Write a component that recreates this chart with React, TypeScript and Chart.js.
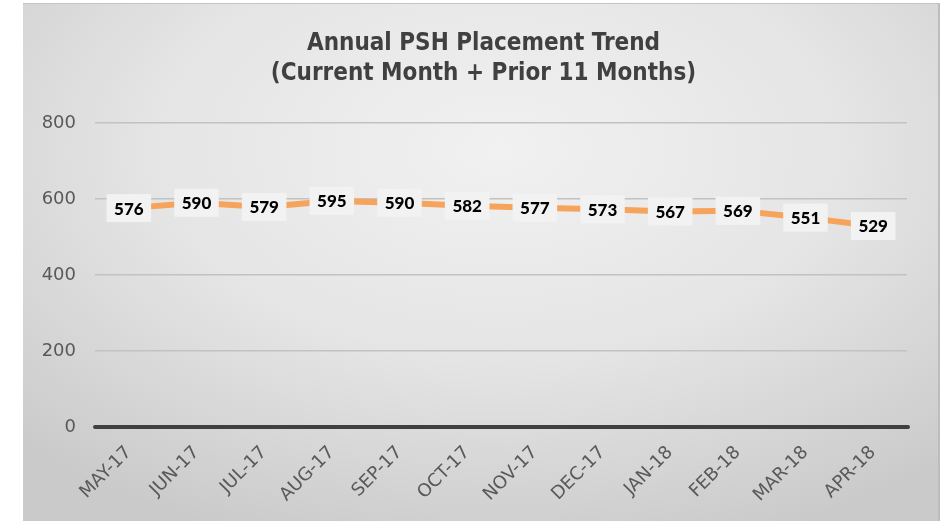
import React, { useEffect, useRef } from "react";
import { Chart, registerables } from "chart.js";

Chart.register(...registerables);

const categories = ["MAY-17", "JUN-17", "JUL-17", "AUG-17", "SEP-17", "OCT-17", "NOV-17", "DEC-17", "JAN-18", "FEB-18", "MAR-18", "APR-18"];
const placements = [576, 590, 579, 595, 590, 582, 577, 573, 567, 569, 551, 529];
const yTicks = [0, 200, 400, 600, 800];
const titleLines = ["Annual PSH Placement Trend", "(Current Month + Prior 11 Months)"];

const FONT = "'DejaVu Sans', sans-serif";
const TITLE_FONT = "'DejaVu Sans Condensed', 'DejaVu Sans', sans-serif";
const LABEL_FONT = "Lato, 'DejaVu Sans', sans-serif";

const decorPlugin = {
  id: "decor",
  beforeDatasetsDraw(chart: any) {
    const { ctx, chartArea, scales } = chart;
    const y0 = scales.y.getPixelForValue(0);
    ctx.save();
    ctx.strokeStyle = "#404040";
    ctx.lineWidth = 4;
    ctx.lineCap = "round";
    ctx.beginPath();
    ctx.moveTo(chartArea.left, y0);
    ctx.lineTo(chartArea.right + 1, y0);
    ctx.stroke();
    ctx.restore();
  },
  afterDatasetsDraw(chart: any) {
    const { ctx } = chart;
    const meta = chart.getDatasetMeta(0);
    ctx.save();
    ctx.font = `900 17px ${LABEL_FONT}`;
    ctx.textAlign = "center";
    ctx.textBaseline = "middle";
    meta.data.forEach((pt: any, i: number) => {
      const txt = String(placements[i]);
      const w = ctx.measureText(txt).width + 15;
      const h = 28;
      ctx.fillStyle = "#f2f2f2";
      ctx.fillRect(pt.x - w / 2, pt.y - h / 2, w, h);
      ctx.fillStyle = "#000000";
      ctx.fillText(txt, pt.x, pt.y + 1);
    });
    ctx.restore();
  },
  afterDraw(chart: any) {
    const { ctx, width } = chart;
    ctx.save();
    ctx.fillStyle = "#404040";
    ctx.textAlign = "center";
    ctx.textBaseline = "alphabetic";
    ctx.font = `bold 24px ${TITLE_FONT}`;
    ctx.fillText(titleLines[0], width / 2 + 3, 46);
    ctx.fillText(titleLines[1], width / 2 + 3, 76);
    ctx.restore();
  },
};

export default function App() {
  const ref = useRef<HTMLCanvasElement | null>(null);
  useEffect(() => {
    if (!ref.current) return;
    const chart = new Chart(ref.current, {
      type: "line",
      data: {
        labels: categories,
        datasets: [
          {
            data: placements,
            borderColor: "#F6A35C",
            borderWidth: 6,
            pointRadius: 0,
            tension: 0,
            fill: false,
          },
        ],
      },
      options: {
        responsive: false,
        animation: false,
        layout: { padding: { top: 119, right: 31, left: 0, bottom: 0 } },
        plugins: { legend: { display: false }, title: { display: false }, tooltip: { enabled: false } },
        scales: {
          x: {
            offset: true,
            grid: { display: false },
            border: { display: false },
            ticks: {
              minRotation: 45,
              maxRotation: 45,
              autoSkip: false,
              padding: 7,
              color: "#595959",
              font: { family: FONT, size: 18 },
            },
            afterFit(scale: any) {
              scale.height = 96;
            },
          },
          y: {
            min: 0,
            max: 800,
            afterBuildTicks(scale: any) {
              scale.ticks = yTicks.map((v) => ({ value: v }));
            },
            grid: {
              drawTicks: false,
              color: (c: any) => (c.tick && c.tick.value === 0 ? "rgba(0,0,0,0)" : "#c2c2c2"),
              lineWidth: 1.5,
            },
            border: { display: false },
            ticks: {
              padding: 19,
              color: "#595959",
              font: { family: FONT, size: 18 },
            },
            afterFit(scale: any) {
              scale.width = 72;
            },
          },
        },
      },
      plugins: [decorPlugin],
    });
    return () => chart.destroy();
  }, []);

  return (
    <div style={{ position: "fixed", left: 0, top: 0, width: 946, height: 521, background: "#ffffff", overflow: "hidden" }}>
      <div
        style={{
          position: "absolute",
          left: 23,
          top: 3,
          width: 917,
          height: 520,
          boxSizing: "border-box",
          borderTop: "1px solid #c4c4c4",
          borderRight: "2px solid #bdbdbd",
          background: "radial-gradient(ellipse 75% 80% at 52% 28%, #f1f1f1 0%, #e5e5e5 50%, #cacaca 100%)",
        }}
      >
        <canvas ref={ref} width={915} height={519} style={{ display: "block" }} />
      </div>
    </div>
  );
}
